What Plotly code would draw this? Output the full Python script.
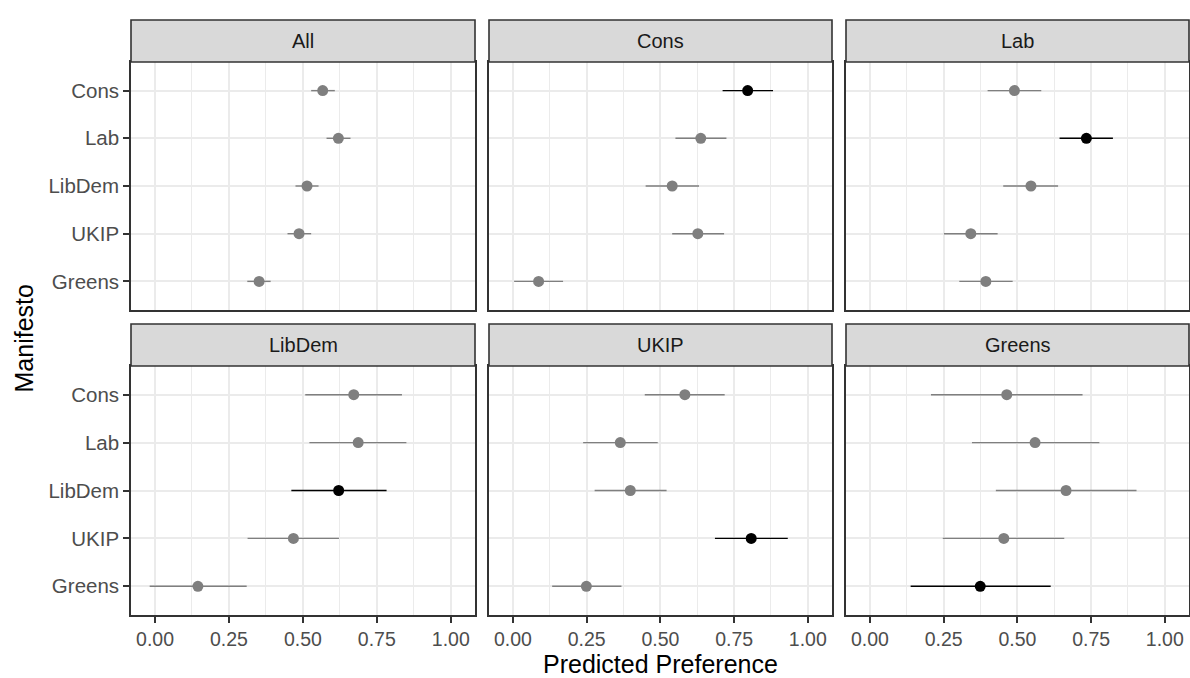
import plotly.graph_objects as go

# ---- data ----
manifestos = ["Cons", "Lab", "LibDem", "UKIP", "Greens"]
facets = ["All", "Cons", "Lab", "LibDem", "UKIP", "Greens"]

est_All = [0.567, 0.620, 0.514, 0.487, 0.352]
lo_All = [0.528, 0.580, 0.475, 0.448, 0.312]
hi_All = [0.608, 0.661, 0.553, 0.528, 0.391]

est_Cons = [0.796, 0.637, 0.540, 0.627, 0.087]
lo_Cons = [0.711, 0.551, 0.450, 0.540, 0.004]
hi_Cons = [0.882, 0.724, 0.631, 0.716, 0.170]

est_Lab = [0.490, 0.734, 0.546, 0.342, 0.393]
lo_Lab = [0.399, 0.643, 0.452, 0.251, 0.303]
hi_Lab = [0.581, 0.824, 0.638, 0.433, 0.484]

est_LibDem = [0.672, 0.687, 0.621, 0.468, 0.145]
lo_LibDem = [0.508, 0.522, 0.461, 0.313, -0.018]
hi_LibDem = [0.835, 0.850, 0.783, 0.622, 0.310]

est_UKIP = [0.583, 0.364, 0.398, 0.808, 0.249]
lo_UKIP = [0.447, 0.238, 0.277, 0.685, 0.133]
hi_UKIP = [0.718, 0.491, 0.521, 0.932, 0.368]

est_Greens = [0.464, 0.560, 0.665, 0.454, 0.374]
lo_Greens = [0.207, 0.346, 0.427, 0.247, 0.138]
hi_Greens = [0.721, 0.778, 0.904, 0.659, 0.613]

panel_data = {
    "All": (est_All, lo_All, hi_All),
    "Cons": (est_Cons, lo_Cons, hi_Cons),
    "Lab": (est_Lab, lo_Lab, hi_Lab),
    "LibDem": (est_LibDem, lo_LibDem, hi_LibDem),
    "UKIP": (est_UKIP, lo_UKIP, hi_UKIP),
    "Greens": (est_Greens, lo_Greens, hi_Greens),
}

x_ticks = [0, 0.25, 0.5, 0.75, 1.0]
x_ticktext = ["0.00", "0.25", "0.50", "0.75", "1.00"]

# ---- layout geometry (pixels in a 1190x678 page) ----
W, H = 1190, 678
col_px = [(131, 475), (489, 832), (846, 1189)]
row_panel_px = [(62, 310), (366, 615)]
row_strip_px = [(20, 62), (324, 366)]

FONT = "Liberation Sans"
GRID = "#EBEBEB"
BORDER = "#333333"
LW = 1.6
TICK_SIZE = 19.5


def px_x(v):
    return v / W


def px_y(v):
    return 1 - v / H


fig = go.Figure()
layout_axes = {}
shapes = []
annotations = []

for i, facet in enumerate(facets):
    r, c = divmod(i, 3)
    xa = "x" if i == 0 else f"x{i+1}"
    ya = "y" if i == 0 else f"y{i+1}"
    est, lo, hi = panel_data[facet]

    for highlight in (False, True):
        idx = [k for k, m in enumerate(manifestos) if (m == facet) == highlight]
        if not idx:
            continue
        color = "#000000" if highlight else "#7F7F7F"
        fig.add_trace(go.Scatter(
            x=[est[k] for k in idx],
            y=[manifestos[k] for k in idx],
            mode="markers",
            marker=dict(size=11, color=color),
            error_x=dict(
                type="data", symmetric=False,
                array=[hi[k] - est[k] for k in idx],
                arrayminus=[est[k] - lo[k] for k in idx],
                color=color, thickness=1.4, width=0,
            ),
            xaxis=xa, yaxis=ya, showlegend=False, hoverinfo="x+y",
        ))

    x0p, x1p = col_px[c]
    y0p, y1p = row_panel_px[r]
    bottom = r == 1
    left = c == 0
    key_x = "xaxis" if i == 0 else f"xaxis{i+1}"
    key_y = "yaxis" if i == 0 else f"yaxis{i+1}"
    layout_axes[key_x] = dict(
        domain=[px_x(x0p), px_x(x1p)],
        anchor=ya,
        range=[-0.0812, 1.082],
        tickvals=x_ticks, ticktext=x_ticktext,
        showticklabels=bottom,
        ticks="outside" if bottom else "",
        ticklen=6, tickwidth=LW, tickcolor=BORDER,
        tickfont=dict(family=FONT, size=TICK_SIZE, color="#4D4D4D"),
        showgrid=True, gridcolor=GRID, gridwidth=2,
        minor=dict(tickvals=[0.125, 0.375, 0.625, 0.875], showgrid=True,
                   gridcolor=GRID, gridwidth=1, ticks=""),
        zeroline=False,
        showline=True, mirror=True, linecolor=BORDER, linewidth=LW,
        fixedrange=True,
    )
    layout_axes[key_y] = dict(
        domain=[px_y(y1p), px_y(y0p)],
        anchor=xa,
        type="category",
        categoryorder="array",
        categoryarray=manifestos[::-1],
        range=[-0.6, 4.6],
        showticklabels=left,
        ticks="outside" if left else "",
        ticklen=6, tickwidth=LW, tickcolor=BORDER,
        tickfont=dict(family=FONT, size=20.5, color="#4D4D4D"),
        showgrid=True, gridcolor=GRID, gridwidth=2,
        zeroline=False,
        showline=True, mirror=True, linecolor=BORDER, linewidth=LW,
        fixedrange=True,
    )

    s0, s1 = row_strip_px[r]
    shapes.append(dict(
        type="rect", xref="paper", yref="paper",
        x0=px_x(x0p), x1=px_x(x1p), y0=px_y(s1), y1=px_y(s0),
        fillcolor="#D9D9D9", line=dict(color=BORDER, width=LW), layer="above",
    ))
    annotations.append(dict(
        text=facet, xref="paper", yref="paper",
        x=px_x((x0p + x1p) / 2), y=px_y((s0 + s1) / 2),
        xanchor="center", yanchor="middle", showarrow=False,
        font=dict(family=FONT, size=20, color="#1A1A1A"),
    ))

annotations.append(dict(
    text="Manifesto", xref="paper", yref="paper",
    x=px_x(23), y=px_y((62 + 615) / 2), textangle=-90,
    xanchor="center", yanchor="middle", showarrow=False,
    font=dict(family=FONT, size=25, color="#000000"),
))
annotations.append(dict(
    text="Predicted Preference", xref="paper", yref="paper",
    x=px_x((131 + 1189) / 2), y=px_y(664),
    xanchor="center", yanchor="middle", showarrow=False,
    font=dict(family=FONT, size=25, color="#000000"),
))

fig.update_layout(
    width=W, height=H,
    margin=dict(l=0, r=0, t=0, b=0),
    paper_bgcolor="white", plot_bgcolor="white",
    showlegend=False,
    shapes=shapes, annotations=annotations,
    font=dict(family=FONT),
    **layout_axes,
)

fig.write_html("out.html")
